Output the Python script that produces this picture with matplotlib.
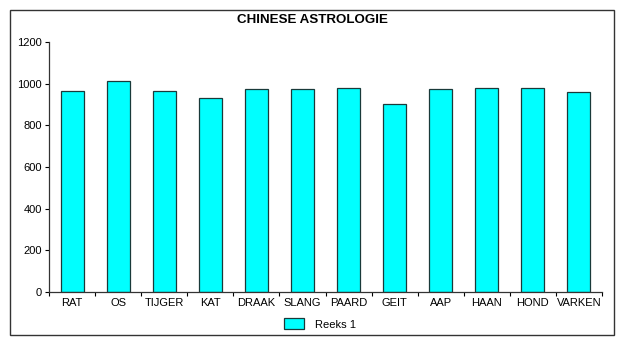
import numpy as np
import matplotlib.pyplot as plt
from matplotlib.patches import Rectangle

plt.rcParams['font.family'] = ['Liberation Sans', 'DejaVu Sans']

# data
signs = ['RAT', 'OS', 'TIJGER', 'KAT', 'DRAAK', 'SLANG', 'PAARD', 'GEIT',
         'AAP', 'HAAN', 'HOND', 'VARKEN']
counts = [965, 1011, 965, 931, 974, 974, 978, 904, 974, 978, 978, 959]
yticks = [0, 200, 400, 600, 800, 1000, 1200]

W, H = 625, 346
fig = plt.figure(figsize=(W / 100, H / 100), dpi=100)

# outer frame round the whole chart
fig.patches.append(Rectangle((10 / W, 1 - 335 / H), 604 / W, 325 / H,
                             transform=fig.transFigure, fill=False,
                             edgecolor='#333333', linewidth=1))

ax = fig.add_axes([49 / W, 1 - 292 / H, 553 / W, 250 / H])
x = np.arange(len(signs))
ax.bar(x, counts, width=0.5, color='#00FFFF', edgecolor='#1a3a3a',
       linewidth=0.9, label='Reeks 1')

ax.set_xlim(-0.5, len(signs) - 0.5)
ax.set_ylim(0, 1200)
ax.set_yticks(yticks)
ax.set_xticks(x)
ax.set_xticklabels(signs)
ax.set_xticks(np.arange(-0.5, len(signs)), minor=True)
ax.tick_params(axis='x', which='major', length=0, pad=4, labelsize=8)
ax.tick_params(axis='x', which='minor', length=3, direction='out', width=0.8)
ax.tick_params(axis='y', length=3, width=0.8, pad=2, labelsize=8)
for s in ['top', 'right']:
    ax.spines[s].set_visible(False)
for s in ['left', 'bottom']:
    ax.spines[s].set_color('#333333')
    ax.spines[s].set_linewidth(0.9)

fig.text(312 / W, 1 - 20 / H, 'CHINESE ASTROLOGIE', ha='center', va='center',
         fontsize=9.6, fontweight='bold')

fig.legend(loc='center', bbox_to_anchor=(320 / W, 1 - 324 / H), frameon=False,
           fontsize=8, handlelength=1.8, handleheight=1.1, handletextpad=1.0)

fig.savefig('out.png', dpi=100)
